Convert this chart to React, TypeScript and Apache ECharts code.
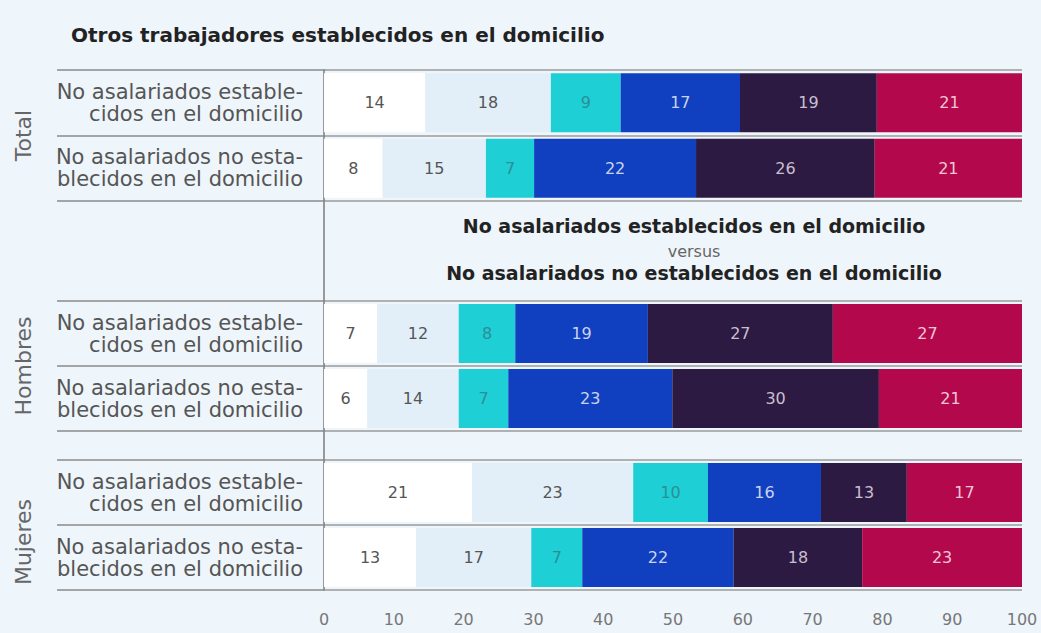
import React, { useEffect, useRef } from "react";
import * as echarts from "echarts";

const title = "Otros trabajadores establecidos en el domicilio";
const groups = ["Total", "Hombres", "Mujeres"];
const categories = [
  "No asalariados estable-\ncidos en el domicilio",
  "No asalariados no esta-\nblecidos en el domicilio",
];
const xTicks = [0, 10, 20, 30, 40, 50, 60, 70, 80, 90, 100];

// printed labels for each row (6 segments)
const totalLabels = [
  [14, 18, 9, 17, 19, 21],
  [8, 15, 7, 22, 26, 21],
];
const hombresLabels = [
  [7, 12, 8, 19, 27, 27],
  [6, 14, 7, 23, 30, 21],
];
const mujeresLabels = [
  [21, 23, 10, 16, 13, 17],
  [13, 17, 7, 22, 18, 23],
];

// segment widths (percent)
const totalWidths = [
  [14.5, 18, 10, 17.1, 19.6, 20.8],
  [8.4, 14.8, 6.9, 23.2, 25.6, 21.1],
];
const hombresWidths = [
  [7.6, 11.7, 8.1, 19, 26.5, 27.1],
  [6.2, 13.1, 7.1, 23.5, 29.6, 20.5],
];
const mujeresWidths = [
  [21.2, 23.1, 10.7, 16.2, 12.3, 16.5],
  [13.2, 16.5, 7.3, 21.7, 18.4, 22.9],
];

const middleLine1 = "No asalariados establecidos en el domicilio";
const middleLine2 = "versus";
const middleLine3 = "No asalariados no establecidos en el domicilio";

const segColors = ["#ffffff", "#e2eff9", "#1ecfd6", "#1040c0", "#2d1a42", "#b3094c"];
const segLabelColors = ["#555555", "#555555", "#2a8f96", "#c9d3ee", "#c8bfd0", "#f0c6d4"];

const FONT = "'DejaVu Sans', Verdana, sans-serif";

export default function App() {
  const ref = useRef<HTMLDivElement>(null);

  useEffect(() => {
    document.body.style.margin = "0";
    const chart = echarts.init(ref.current!, null, { renderer: "svg" });

    const gridDefs = [
      { left: 324, top: 70, width: 698, height: 131 },
      { left: 324, top: 301, width: 698, height: 130 },
      { left: 324, top: 460, width: 698, height: 130 },
      { left: 324, top: 70, width: 698, height: 520 },
    ];
    const labelsByGroup = [totalLabels, hombresLabels, mujeresLabels];
    const widthsByGroup = [totalWidths, hombresWidths, mujeresWidths];

    const xAxes: any[] = [0, 1, 2].map((g) => ({
      type: "value",
      gridIndex: g,
      min: 0,
      max: 100,
      interval: 10,
      show: g === 2,
      axisLine: { show: false },
      axisTick: { show: false },
      splitLine: { show: false },
      axisLabel: {
        show: g === 2,
        color: "#777",
        fontSize: 16,
        fontFamily: FONT,
        margin: 21,
        formatter: (v: number) => (xTicks.includes(v) ? String(v) : ""),
      },
    }));
    xAxes.push({ type: "value", gridIndex: 3, min: 0, max: 100, show: false });

    const yAxes: any[] = [0, 1, 2].map((g) => ({
      type: "category",
      gridIndex: g,
      data: categories,
      inverse: true,
      name: groups[g],
      nameLocation: "middle",
      nameRotate: 90,
      nameGap: 290,
      nameTextStyle: {
        color: "#666",
        fontSize: 22,
        fontFamily: FONT,
        padding: g === 2 ? [0, 34, 0, 0] : 0,
      },
      axisLine: { show: false },
      axisTick: {
        show: true,
        length: 267,
        interval: 0,
        lineStyle: { color: "#8a8a8a", width: 1.5 },
      },
      splitLine: { show: true, interval: 0, lineStyle: { color: "#9a9a9a", width: 1.5 } },
      axisLabel: {
        color: "#555",
        fontSize: 21,
        fontFamily: FONT,
        lineHeight: 22,
        align: "right",
        margin: 21,
      },
    }));
    yAxes.push({
      type: "value",
      gridIndex: 3,
      min: 0,
      max: 1,
      axisLine: { show: true, lineStyle: { color: "#7a7a7a", width: 1.5 } },
      axisTick: { show: false },
      axisLabel: { show: false },
      splitLine: { show: false },
    });

    const series: any[] = [];
    for (let g = 0; g < 3; g++) {
      for (let s = 0; s < 6; s++) {
        series.push({
          type: "bar",
          name: `g${g}s${s}`,
          xAxisIndex: g,
          yAxisIndex: g,
          stack: `stack${g}`,
          barWidth: 59,
          data: widthsByGroup[g].map((row) => row[s]),
          itemStyle: { color: segColors[s] },
          label: {
            show: true,
            position: "inside",
            color: segLabelColors[s],
            fontSize: 16,
            fontFamily: FONT,
            formatter: (p: any) => String(labelsByGroup[g][p.dataIndex][s]),
          },
        });
      }
    }

    const middle = [
      { text: middleLine1, y: 226, font: `bold 19px ${FONT}`, fill: "#222" },
      { text: middleLine2, y: 251, font: `16px ${FONT}`, fill: "#666" },
      { text: middleLine3, y: 273, font: `bold 19px ${FONT}`, fill: "#222" },
    ];

    chart.setOption({
      animation: false,
      backgroundColor: "#eef5fb",
      title: {
        text: title,
        left: 66,
        top: 20,
        textStyle: { color: "#222", fontSize: 20, fontWeight: "bold", fontFamily: FONT },
      },
      grid: gridDefs,
      xAxis: xAxes,
      yAxis: yAxes,
      series,
      graphic: middle.map((m) => ({
        type: "text",
        x: 694,
        y: m.y,
        z: 10,
        style: {
          text: m.text,
          fill: m.fill,
          font: m.font,
          textAlign: "center",
          textVerticalAlign: "middle",
        },
      })),
    });

    return () => chart.dispose();
  }, []);

  return <div ref={ref} style={{ width: 1041, height: 633 }} />;
}
